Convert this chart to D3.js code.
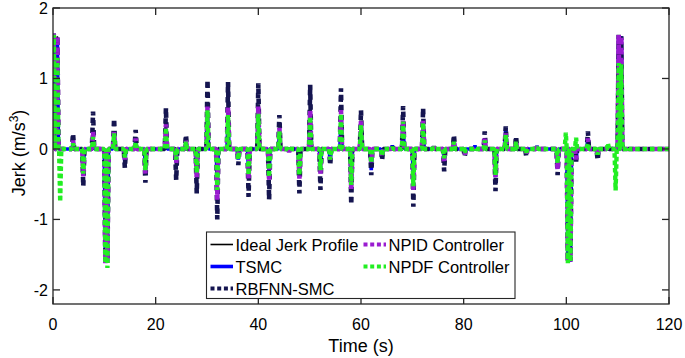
<!DOCTYPE html>
<html>
<head>
<meta charset="utf-8">
<script src="https://cdn.jsdelivr.net/npm/d3@7"></script>
<style>
  html, body { margin: 0; padding: 0; background: #fff; }
  svg { display: block; }
  text { font-family: "Liberation Sans", Arial, Helvetica, sans-serif; fill: #000; }
</style>
</head>
<body>
<svg id="chart" width="685" height="358"></svg>
<script>
// ---- data ----
const spikeT = [0.15, 0.85, 1.4, 3.9, 5.9, 7.8, 10.2, 10.6, 11.9, 14.0, 16.1, 18.0, 22.0, 24.0, 25.9, 28.0,
  30.1, 32.0, 34.1, 36.1, 38.1, 40.0, 42.1, 44.1, 46.0, 48.0, 50.1, 52.1, 54.0, 56.1, 58.1, 60.0,
  62.0, 64.1, 66.1, 68.2, 70.2, 72.1, 74.2, 76.2, 78.1, 80.2, 82.2, 84.1, 86.2, 88.2, 90.2, 92.2,
  94.3, 98.3, 99.9, 100.3, 100.8, 101.9, 104.2, 106.1, 108.1, 109.6, 110.2, 110.7, 112.0];

const idealJerk = [1.6, 1.6, 0, 0, 0, 0, -1.6, -1.6, 0, 0, 0, 0, 0, 0, 0, 0,
  0, 0, 0, 0, 0, 0, 0, 0, 0, 0, 0, 0, 0, 0, 0, 0,
  0, 0, 0, 0, 0, 0, 0, 0, 0, 0, 0, 0, 0, 0, 0, 0,
  0, 0, 0, -1.6, -1.6, 0, 0, 0, 0, 0, 1.6, 1.6, 0];

const tsmcJerk = [1.6, 1.55, 0, 0.08, -0.3, 0.15, -1.6, -1.6, 0.2, -0.2, 0.12, -0.25, 0.2, -0.15, 0.1, -0.3,
  0.5, -0.5, 0.4, -0.15, -0.3, 0.45, -0.35, 0.2, -0.03, -0.3, 0.4, -0.25, -0.18, 0.45, -0.45, 0.3,
  -0.3, -0.1, 0.05, 0.35, -0.45, 0.3, 0.03, -0.15, 0.12, -0.06, 0.05, 0.15, -0.4, 0.3, 0.1, -0.06,
  0.04, -0.25, 0, -1.6, -1.6, -0.15, 0.15, -0.1, 0.05, 0, 1.6, 1.6, 0];

const rbfnnJerk = [1.65, 1.6, 0, 0.22, -0.53, 0.53, -1.6, -1.55, 0.43, -0.27, 0.27, -0.48, 0.58, -0.44, 0.2, -0.63,
  0.98, -1.0, 0.95, -0.23, -0.68, 0.93, -0.72, 0.48, -0.05, -0.63, 0.91, -0.58, -0.23, 0.86, -0.79, 0.55,
  -0.37, -0.16, 0.03, 0.61, -0.82, 0.58, 0.03, -0.32, 0.2, -0.11, 0.02, 0.25, -0.6, 0.32, 0.18, -0.11,
  0.03, -0.37, 0, -1.6, -1.58, -0.18, 0.25, -0.16, 0.03, 0, 1.62, 1.6, 0];

const npidJerk = [1.65, 1.6, 0, 0.12, -0.4, 0.25, -1.62, -1.62, 0.25, -0.15, 0.15, -0.35, 0.35, -0.2, 0.12, -0.4,
  0.6, -0.72, 0.6, -0.15, -0.42, 0.6, -0.46, 0.3, -0.04, -0.42, 0.55, -0.35, -0.15, 0.55, -0.58, 0.4,
  -0.2, -0.12, 0.03, 0.42, -0.6, 0.4, 0.02, -0.2, 0.12, -0.08, 0.02, 0.15, -0.4, 0.22, 0.12, -0.08,
  0.02, -0.3, 0, -1.6, -1.6, -0.15, 0.15, -0.1, 0.03, 0, 1.62, 1.6, 0];

const npdfJerk = [1.62, 1.29, -0.75, 0.08, -0.35, 0.17, -1.62, -1.69, 0.22, -0.12, 0.1, -0.3, 0.3, -0.15, 0.1, -0.34,
  0.55, -0.58, 0.48, -0.15, -0.37, 0.5, -0.4, 0.25, -0.03, -0.37, 0.46, -0.3, -0.15, 0.5, -0.51, 0.34,
  -0.2, -0.1, 0.02, 0.39, -0.53, 0.37, 0.02, -0.13, 0.1, -0.05, 0.02, 0.12, -0.37, 0.2, 0.1, -0.05,
  0.02, -0.2, 0.23, -1.62, -1.6, 0.16, 0.08, -0.08, 0.08, -0.59, 1.22, 1.2, 0.03];

const seriesNames = ["Ideal Jerk Profile", "TSMC", "RBFNN-SMC", "NPID Controller", "NPDF Controller"];
const xTicks = [0, 20, 40, 60, 80, 100, 120];
const yTicks = [-2, -1, 0, 1, 2];

// ---- layout ----
const svg = d3.select("#chart");
const L = 53, R = 669, T = 8, B = 304;
const x = d3.scaleLinear().domain([0, 120]).range([L, R]);
const y = d3.scaleLinear().domain([-2.2, 2]).range([B, T]);

const styles = [
  { color: "#000000", width: 1.6, dash: null },
  { color: "#0000ff", width: 3.6, dash: null },
  { color: "#151550", width: 4.6, dash: "5.5 4.5" },
  { color: "#9a1bd0", width: 4.6, dash: "5.5 4.5" },
  { color: "#22ee22", width: 4.4, dash: "4.6 2.8" }
];

function buildPoints(vals, w) {
  const peaks = spikeT.map((t, i) => [t, vals[i]]).filter(p => p[1] !== 0);
  const pts = [[0, 0]];
  peaks.forEach((p, i) => {
    const last = pts[pts.length - 1];
    if (p[0] - w > last[0]) pts.push([p[0] - w, 0]);
    pts.push(p);
    const next = peaks[i + 1];
    if (!next || next[0] - w >= p[0] + w) pts.push([p[0] + w, 0]);
  });
  pts.push([120, 0]);
  return pts;
}

svg.append("defs").append("clipPath").attr("id", "clip")
  .append("rect").attr("x", L).attr("y", T).attr("width", R - L).attr("height", B - T);

const line = d3.line().x(d => x(d[0])).y(d => y(d[1]));
const allSeries = [idealJerk, tsmcJerk, rbfnnJerk, npidJerk, npdfJerk];
const g = svg.append("g").attr("clip-path", "url(#clip)");
allSeries.forEach((vals, i) => {
  const s = styles[i];
  g.append("path")
    .attr("d", line(buildPoints(vals, 0.22)))
    .attr("fill", "none")
    .attr("stroke", s.color)
    .attr("stroke-width", s.width)
    .attr("stroke-linejoin", "bevel")
    .attr("stroke-dasharray", s.dash);
});

// ---- axes box and ticks ----
const axisColor = "#262626";
const tl = 7;
const ax = svg.append("g").attr("stroke", axisColor).attr("stroke-width", 1.3).attr("fill", "none");
ax.append("rect").attr("x", L).attr("y", T).attr("width", R - L).attr("height", B - T);
xTicks.forEach(v => {
  ax.append("line").attr("x1", x(v)).attr("x2", x(v)).attr("y1", B).attr("y2", B - tl);
  ax.append("line").attr("x1", x(v)).attr("x2", x(v)).attr("y1", T).attr("y2", T + tl);
});
yTicks.forEach(v => {
  ax.append("line").attr("x1", L).attr("x2", L + tl).attr("y1", y(v)).attr("y2", y(v));
  ax.append("line").attr("x1", R).attr("x2", R - tl).attr("y1", y(v)).attr("y2", y(v));
});

svg.append("g").selectAll("text").data(xTicks).join("text")
  .attr("x", d => x(d)).attr("y", 330)
  .attr("text-anchor", "middle").attr("font-size", 16)
  .text(d => d);
svg.append("g").selectAll("text").data(yTicks).join("text")
  .attr("x", 48).attr("y", d => y(d) + 6)
  .attr("text-anchor", "end").attr("font-size", 16)
  .text(d => d);

svg.append("text").attr("x", 361).attr("y", 352).attr("text-anchor", "middle")
  .attr("font-size", 18).text("Time (s)");

const yl = svg.append("text").attr("transform", "translate(25,153) rotate(-90)")
  .attr("text-anchor", "middle").attr("font-size", 18);
yl.append("tspan").text("Jerk (m/s");
yl.append("tspan").attr("font-size", 12).attr("dy", -7).text("3");
yl.append("tspan").attr("dy", 7).text(")");

// ---- legend ----
const lg = svg.append("g");
lg.append("rect").attr("x", 206.5).attr("y", 232).attr("width", 308.5).attr("height", 66.5)
  .attr("fill", "#fff").attr("stroke", axisColor).attr("stroke-width", 1.1);
const legendPos = [
  { lx: 210.5, ly: 244.5 },
  { lx: 210.5, ly: 266.5 },
  { lx: 210.5, ly: 288.5 },
  { lx: 363.5, ly: 244.5 },
  { lx: 363.5, ly: 266.5 }
];
const legendDash = [null, null, "4 2.7", "4 2.7", "4 2.7"];
const legendWidth = [1.6, 3.6, 4, 4, 4];
seriesNames.forEach((name, i) => {
  const p = legendPos[i], s = styles[i];
  lg.append("line").attr("x1", p.lx).attr("x2", p.lx + 22.5).attr("y1", p.ly).attr("y2", p.ly)
    .attr("stroke", s.color).attr("stroke-width", legendWidth[i])
    .attr("stroke-dasharray", legendDash[i]);
  lg.append("text").attr("x", p.lx + 25).attr("y", p.ly + 6.3)
    .attr("font-size", 16.5).text(name);
});
</script>
</body>
</html>
